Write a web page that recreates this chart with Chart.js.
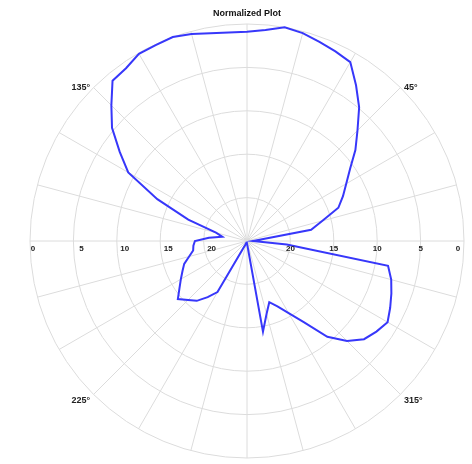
<!DOCTYPE html>
<html>
<head>
<meta charset="utf-8">
<title>Normalized Plot</title>
<script src="https://cdn.jsdelivr.net/npm/chart.js@4/dist/chart.umd.min.js"></script>
<style>
  html, body { margin: 0; padding: 0; background: #ffffff; }
  canvas { display: block; }
</style>
</head>
<body>
<canvas id="plot" width="472" height="464"></canvas>
<script>
// Bearing of each sample, degrees counter-clockwise from east
const angles = [
  0, 5, 10, 15, 20, 25, 30, 35, 40, 45, 50, 55,
  60, 65, 70, 75, 80, 85, 90, 95, 100, 105, 110, 115,
  120, 125, 130, 135, 140, 145, 150, 155, 160, 165, 170, 175,
  180, 185, 190, 195, 200, 205, 210, 215, 220, 225, 230, 235,
  240, 245, 250, 255, 260, 265, 270, 275, 280, 285, 290, 295,
  300, 305, 310, 315, 320, 325, 330, 335, 340, 345, 350, 355
];

// Normalized level at each bearing, dB below the peak
const levelDb = [
  24.3, 23.7, 17.5, 16.0, 13.8, 12.8, 11.8, 10.5, 8.7, 7.0, 4.9, 3.1,
  1.2, 0.9, 0.6, 0.2, 0.0, 0.6, 0.9, 0.9, 0.7, 0.3, 0.0, 0.1,
  0.1, 0.7, 0.9, 2.9, 4.7, 7.1, 9.2, 13.6, 17.8, 21.3, 22.1, 20.6,
  19.0, 18.8, 18.7, 18.1, 17.3, 16.8, 16.2, 15.5, 14.6, 15.4, 16.0, 17.1,
  18.2, 24.5, 24.8, 24.8, 24.8, 24.8, 24.7, 24.5, 14.4, 16.3, 17.5, 16.7,
  15.4, 13.6, 10.6, 8.7, 7.4, 6.8, 6.3, 6.8, 7.3, 7.8, 8.5, 20.4
];

// Ring labels (dB) and bearing labels
const ringTicks = [0, 5, 10, 15, 20];
const angleMarks = [45, 135, 225, 315];
const rangeDb = 25;
const spokeStep = 15;

// The radar walks clockwise from its start angle, so feed it bearings 0, 355, 350, ...
const order = angles.map((_, i) => (angles.length - i) % angles.length);
const radarLabels = order.map(k => angles[k]);
const radarData = order.map(k => levelDb[k]);

const FONT = '"Liberation Sans", Arial, Helvetica, sans-serif';

// Ring values along the horizontal diameter and bearing marks outside the rim
const polarLabels = {
  id: 'polarLabels',
  afterDraw(chart) {
    const s = chart.scales.r;
    const ctx = chart.ctx;
    ctx.save();
    ctx.fillStyle = '#222222';
    ctx.textBaseline = 'middle';
    ctx.textAlign = 'center';
    ctx.font = 'bold 8px ' + FONT;
    ringTicks.forEach(v => {
      const d = s.getDistanceFromCenterForValue(v);
      const rim = v === 0;
      ctx.fillText(String(v), s.xCenter - d + (rim ? 3 : 8), s.yCenter + 8);
      ctx.fillText(String(v), s.xCenter + d + (rim ? -6 : 0), s.yCenter + 8);
    });
    ctx.font = 'bold 9px ' + FONT;
    angleMarks.forEach(a => {
      const rad = a * Math.PI / 180;
      const d = s.drawingArea + 5;
      const x = s.xCenter + Math.cos(rad) * d;
      const y = s.yCenter - Math.sin(rad) * d + 3;
      ctx.textAlign = Math.cos(rad) >= 0 ? 'left' : 'right';
      ctx.fillText(a + '\u00B0', x, y);
    });
    ctx.restore();
  }
};

new Chart(document.getElementById('plot'), {
  type: 'radar',
  data: {
    labels: radarLabels,
    datasets: [{
      label: 'Normalized level',
      data: radarData,
      borderColor: 'rgb(55, 55, 250)',
      borderWidth: 2,
      backgroundColor: 'rgba(0,0,0,0)',
      fill: false,
      tension: 0,
      pointRadius: 0,
      pointHoverRadius: 0,
      pointHitRadius: 0
    }]
  },
  options: {
    responsive: false,
    animation: false,
    events: [],
    layout: { padding: { left: 30, right: 8, top: 0, bottom: 5 } },
    plugins: {
      legend: { display: false },
      tooltip: { enabled: false },
      title: {
        display: true,
        text: 'Normalized Plot',
        color: '#111111',
        font: { family: FONT, size: 9, weight: 'bold' },
        padding: { top: 8, bottom: 6 }
      }
    },
    scales: {
      r: {
        min: 0,
        max: rangeDb,
        reverse: true,
        startAngle: 90,
        afterBuildTicks(scale) {
          // first tick is skipped by the grid, so lead with the centre value
          scale.ticks = [rangeDb].concat(ringTicks).map(v => ({ value: v }));
        },
        ticks: { display: false, stepSize: 5 },
        pointLabels: { display: false },
        grid: { circular: true, color: '#dcdcdc', lineWidth: 1 },
        angleLines: {
          display: true,
          color: '#dcdcdc',
          lineWidth: ctx => (radarLabels[ctx.index] % spokeStep === 0 ? 1 : 0)
        }
      }
    }
  },
  plugins: [polarLabels]
});
</script>
</body>
</html>
